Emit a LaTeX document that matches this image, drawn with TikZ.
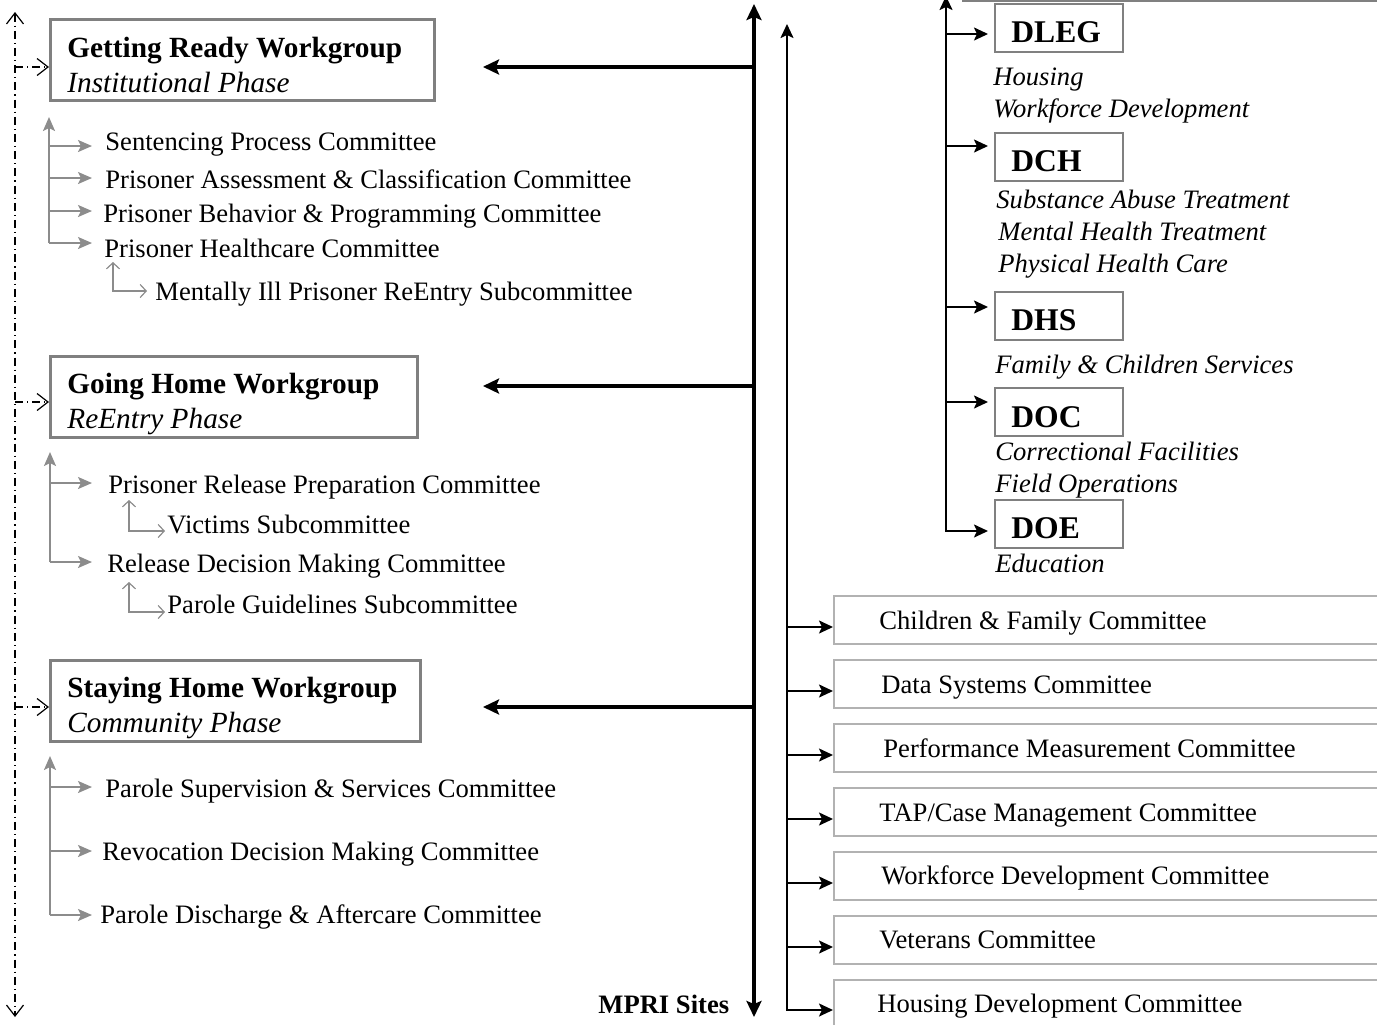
\documentclass[tikz,border=0pt]{standalone}
\usepackage{fontspec}
\setmainfont{Liberation Serif}
\usetikzlibrary{arrows.meta}

\tikzset{
  wgbox/.style={draw=gray, line width=1.5pt, anchor=north west, inner sep=0pt, minimum height=40.5pt},
  deptbox/.style={draw=gray, line width=1pt, anchor=north west, inner sep=0pt, minimum width=64pt, minimum height=24pt},
  combox/.style={draw=gray!60, line width=1pt, anchor=north west, inner sep=0pt, minimum width=290pt, minimum height=24pt},
  txt/.style={anchor=base west, inner sep=0pt, font=\fontsize{13.3}{16}\selectfont},
  wgtitle/.style={txt, font=\fontsize{14.65}{17}\selectfont\bfseries},
  wgphase/.style={txt, font=\fontsize{14.65}{17}\selectfont\itshape},
  depttitle/.style={txt, font=\fontsize{15.8}{18}\selectfont\bfseries},
  deptitem/.style={txt, font=\fontsize{13.3}{16}\selectfont\itshape},
  sitetitle/.style={txt, font=\fontsize{13.3}{16}\selectfont\bfseries},
  bigtip/.tip={Stealth[length=8pt,width=7.5pt,inset=1.5pt]},
  thintip/.tip={Stealth[length=7pt,width=6.5pt,inset=1.5pt]},
  graytip/.tip={Stealth[length=7pt,width=6pt,inset=1.5pt]},
  subtip/.tip={Straight Barb[length=3pt,width=6.5pt]},
  phasetip/.tip={Straight Barb[length=5.5pt,width=8.5pt]},
  trunk/.style={line width=2.25pt},
  feed/.style={line width=2.25pt, -bigtip},
  link/.style={line width=1pt, -thintip},
  twig/.style={draw=gray!90, line width=1pt, -graytip},
  subtwig/.style={draw=gray!90, line width=0.6pt, subtip-subtip},
  phase/.style={line width=0.6pt, dash pattern=on 4pt off 2pt on 0.6pt off 2pt, phasetip-phasetip},
  phasetick/.style={line width=0.6pt, dash pattern=on 4pt off 2pt on 0.6pt off 2pt, -phasetip}
}

\begin{document}
\begin{tikzpicture}[x=0.5pt, y=-0.5pt]
\useasboundingbox (0,0) rectangle (1377,1024);
\clip (0,0) rectangle (1377,1024);

% phases along the left
\coordinate (phtop) at (15,12);
\coordinate (phbot) at (15,1017);
\draw[phase] (phtop) -- (phbot);

% workgroups
\node[wgbox, minimum width=192pt] (getready) at (49,18) {};
\node[wgtitle] (getreadyt) at (67,57) {Getting Ready Workgroup};
\node[wgphase] (getreadyp) at (67,92) {Institutional Phase};
\node[wgbox, minimum width=183.5pt] (goinghome) at (49,355) {};
\node[wgtitle] (goinghomet) at (67,393) {Going Home Workgroup};
\node[wgphase] (goinghomep) at (67,428) {ReEntry Phase};
\node[wgbox, minimum width=185pt] (stayhome) at (49,659) {};
\node[wgtitle] (stayhomet) at (67,697) {Staying Home Workgroup};
\node[wgphase] (stayhomep) at (67,732) {Community Phase};

\draw[phasetick] (15,67) -- (getready.west |- 0,67);
\draw[phasetick] (15,402) -- (goinghome.west |- 0,402);
\draw[phasetick] (15,707) -- (stayhome.west |- 0,707);

% committees of the institutional phase
\node[txt] (sentencing) at (105,150) {Sentencing Process Committee};
\node[txt] (assessment) at (105,188) {Prisoner Assessment \& Classification Committee};
\node[txt] (behavior) at (103,222) {Prisoner Behavior \& Programming Committee};
\node[txt] (healthcare) at (104,257) {Prisoner Healthcare Committee};
\node[txt] (mentallyill) at (155,300) {Mentally Ill Prisoner ReEntry Subcommittee};
\draw[twig] (49,243) -- (49,117);
\draw[twig] (49,146) -- (92,146);
\draw[twig] (49,178) -- (92,178);
\draw[twig] (49,211) -- (92,211);
\draw[twig] (49,243) -- (92,243);
\draw[subtwig] (113,262) |- (147,291);

% committees of the reentry phase
\node[txt] (release) at (108,493) {Prisoner Release Preparation Committee};
\node[txt] (victims) at (167,533) {Victims Subcommittee};
\node[txt] (decision) at (107,572) {Release Decision Making Committee};
\node[txt] (guidelines) at (167,613) {Parole Guidelines Subcommittee};
\draw[twig] (50,562) -- (50,452);
\draw[twig] (50,483) -- (92,483);
\draw[twig] (50,562) -- (92,562);
\draw[subtwig] (129,500) |- (165,531);
\draw[subtwig] (129,582) |- (165,612);

% committees of the community phase
\node[txt] (supervision) at (105,797) {Parole Supervision \& Services Committee};
\node[txt] (revocation) at (102,860) {Revocation Decision Making Committee};
\node[txt] (discharge) at (100,923) {Parole Discharge \& Aftercare Committee};
\draw[twig] (50,915) -- (50,756);
\draw[twig] (50,787) -- (92,787);
\draw[twig] (50,851) -- (92,851);
\draw[twig] (50,915) -- (92,915);

% MPRI sites trunk
\coordinate (sitetop) at (754,4);
\coordinate (sitebot) at (754,1017);
\draw[trunk, bigtip-bigtip] (sitetop) -- (sitebot);
\node[sitetitle] (sites) at (598,1013) {MPRI Sites};
\draw[feed] (sitetop |- 0,67) -- (483,67);
\draw[feed] (sitetop |- 0,386) -- (483,386);
\draw[feed] (sitetop |- 0,707) -- (483,707);

% state departments
\node[deptbox] (dleg) at (994,3) {};
\node[depttitle] (dlegt) at (1011,42) {DLEG};
\node[deptitem] (dleg1) at (993,85) {Housing};
\node[deptitem] (dleg2) at (993,117) {Workforce Development};
\node[deptbox] (dch) at (994,132) {};
\node[depttitle] (dcht) at (1011,171) {DCH};
\node[deptitem] (dch1) at (996,208) {Substance Abuse Treatment};
\node[deptitem] (dch2) at (998,240) {Mental Health Treatment};
\node[deptitem] (dch3) at (998,272) {Physical Health Care};
\node[deptbox] (dhs) at (994,291) {};
\node[depttitle] (dhst) at (1011,330) {DHS};
\node[deptitem] (dhs1) at (995,373) {Family \& Children Services};
\node[deptbox] (doc) at (994,387) {};
\node[depttitle] (doct) at (1011,427) {DOC};
\node[deptitem] (doc1) at (995,460) {Correctional Facilities};
\node[deptitem] (doc2) at (995,492) {Field Operations};
\node[deptbox] (doe) at (994,499) {};
\node[depttitle] (doet) at (1011,538) {DOE};
\node[deptitem] (doe1) at (995,572) {Education};

\draw[draw=gray, line width=1pt] (962,1) -- (1400,1);
\coordinate (depttop) at (946,-4);
\draw[link, thintip-thintip] (depttop) |- (988,531);
\draw[link] (depttop |- 0,34) -- (988,34);
\draw[link] (depttop |- 0,146) -- (988,146);
\draw[link] (depttop |- 0,307) -- (988,307);
\draw[link] (depttop |- 0,402) -- (988,402);

% cross-cutting committees
\node[combox] (children) at (833,595) {};
\node[txt] (childrent) at (879,629) {Children \& Family Committee};
\node[combox] (datasys) at (833,659) {};
\node[txt] (datasyst) at (881,693) {Data Systems Committee};
\node[combox] (perform) at (833,723) {};
\node[txt] (performt) at (883,757) {Performance Measurement Committee};
\node[combox] (tapcase) at (833,787) {};
\node[txt] (tapcaset) at (879,821) {TAP/Case Management Committee};
\node[combox] (workforce) at (833,851) {};
\node[txt] (workforcet) at (881,884) {Workforce Development Committee};
\node[combox] (veterans) at (833,915) {};
\node[txt] (veteranst) at (879,948) {Veterans Committee};
\node[combox] (housingdev) at (833,979) {};
\node[txt] (housingdevt) at (877,1012) {Housing Development Committee};

\coordinate (comtop) at (787,24);
\draw[link, thintip-thintip] (comtop) |- (housingdev.west |- 0,1010);
\draw[link] (comtop |- 0,627) -- (children.west |- 0,627);
\draw[link] (comtop |- 0,691) -- (datasys.west |- 0,691);
\draw[link] (comtop |- 0,755) -- (perform.west |- 0,755);
\draw[link] (comtop |- 0,819) -- (tapcase.west |- 0,819);
\draw[link] (comtop |- 0,883) -- (workforce.west |- 0,883);
\draw[link] (comtop |- 0,947) -- (veterans.west |- 0,947);
\end{tikzpicture}
\end{document}
